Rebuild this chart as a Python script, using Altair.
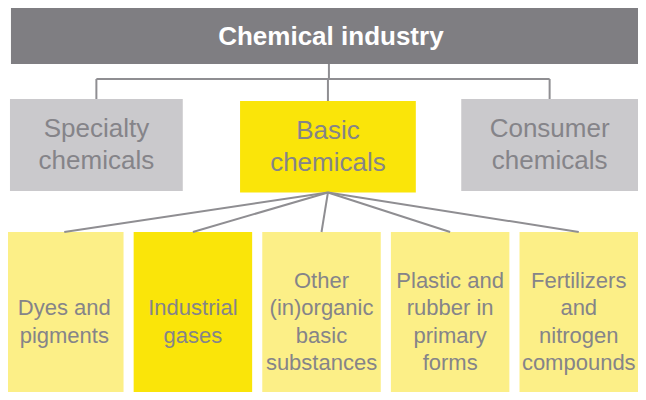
import altair as alt
import pandas as pd

# ---- content (tree structure) ----
root_label = "Chemical industry"
level2_labels = ["Specialty\nchemicals", "Basic\nchemicals", "Consumer\nchemicals"]
level2_kind = ["other", "selected", "other"]
level3_labels = [
    "Dyes and\npigments",
    "Industrial\ngases",
    "Other\n(in)organic\nbasic\nsubstances",
    "Plastic and\nrubber in\nprimary\nforms",
    "Fertilizers\nand\nnitrogen\ncompounds",
]
level3_kind = ["child", "child_selected", "child", "child", "child"]
expanded_parent = 1  # index of level-2 node whose children are shown

# ---- layout (pixel geometry of the diagram, page coordinates) ----
ROOT_BOX = (11, 660, 7, 64)
ROOT_TEXT_X = 335
L2_CENTERS = [97.5, 332, 556.5]
L2_WIDTH = [175, 178, 179]
L2_TOP, L2_BOTTOM = 99, 191
L2_TOP_SEL, L2_BOTTOM_SEL = 101, 192.5
L2_LH = 32
L3_LEFT0, L3_PITCH, L3_WIDTH = 5, 130.25, 120
L3_TOP, L3_BOTTOM = 232, 410
L3_LH = 27.5
BUS_Y = 79
L3_TEXT_Y = 322


def first_line_y(center, label, lh):
    n = label.count("\n") + 1
    return center - (n - 1) * lh / 2


boxes = []
texts = []
rules = []

boxes.append(dict(x=ROOT_BOX[0], x2=ROOT_BOX[1], y=ROOT_BOX[2], y2=ROOT_BOX[3], kind="root"))
texts.append(dict(x=ROOT_TEXT_X, y=(ROOT_BOX[2] + ROOT_BOX[3]) / 2 + 1, label=root_label, level="root"))

for i, (lab, kind) in enumerate(zip(level2_labels, level2_kind)):
    cx = L2_CENTERS[i]
    w = L2_WIDTH[i]
    top, bot = (L2_TOP_SEL, L2_BOTTOM_SEL) if kind == "selected" else (L2_TOP, L2_BOTTOM)
    boxes.append(dict(x=cx - w / 2, x2=cx + w / 2, y=top, y2=bot, kind=kind))
    texts.append(dict(x=cx, y=first_line_y((top + bot) / 2, lab, L2_LH), label=lab, level="l2"))
    rules.append(dict(x=cx, x2=cx, y=BUS_Y, y2=top))

rules.append(dict(x=333, x2=333, y=ROOT_BOX[3], y2=BUS_Y))
rules.append(dict(x=L2_CENTERS[0], x2=L2_CENTERS[-1], y=BUS_Y, y2=BUS_Y))

px = L2_CENTERS[expanded_parent]
py = L2_BOTTOM_SEL
for i, (lab, kind) in enumerate(zip(level3_labels, level3_kind)):
    left = L3_LEFT0 + i * L3_PITCH
    cx = left + L3_WIDTH / 2
    boxes.append(dict(x=left, x2=left + L3_WIDTH, y=L3_TOP, y2=L3_BOTTOM, kind=kind))
    texts.append(dict(x=cx, y=first_line_y(L3_TEXT_Y, lab, L3_LH), label=lab, level="l3"))
    rules.append(dict(x=px, x2=cx, y=py, y2=L3_TOP))

boxes_df = pd.DataFrame(boxes)
texts_df = pd.DataFrame(texts)
rules_df = pd.DataFrame(rules)

xs = alt.Scale(domain=[8, 646], nice=False, zero=False)
ys = alt.Scale(domain=[8, 392], nice=False, zero=False, reverse=True)
X = lambda f: alt.X(f, type="quantitative", scale=xs, axis=None)
Y = lambda f: alt.Y(f, type="quantitative", scale=ys, axis=None)

color_scale = alt.Scale(
    domain=["root", "other", "selected", "child", "child_selected"],
    range=["#7f7e82", "#cac9cc", "#fae509", "#fcef87", "#fae509"],
)

rect = alt.Chart(boxes_df).mark_rect(clip=True).encode(
    x=X("x"), x2="x2", y=Y("y"), y2="y2",
    color=alt.Color("kind:N", scale=color_scale, legend=None),
)

lines = alt.Chart(rules_df).mark_rule(color="#8f8e92", strokeWidth=2).encode(
    x=X("x"), x2="x2", y=Y("y"), y2="y2",
)

root_text = alt.Chart(texts_df[texts_df.level == "root"]).mark_text(
    font="Liberation Sans", fontSize=26, fontWeight="bold", color="#ffffff",
    baseline="middle", align="center",
).encode(x=X("x"), y=Y("y"), text="label:N")

l2_text = alt.Chart(texts_df[texts_df.level == "l2"]).mark_text(
    font="Liberation Sans", fontSize=26, color="#858489", lineBreak="\n",
    lineHeight=L2_LH, baseline="middle", align="center",
).encode(x=X("x"), y=Y("y"), text="label:N")

l3_text = alt.Chart(texts_df[texts_df.level == "l3"]).mark_text(
    font="Liberation Sans", fontSize=22, color="#858489", lineBreak="\n",
    lineHeight=L3_LH, baseline="middle", align="center",
).encode(x=X("x"), y=Y("y"), text="label:N")

chart = alt.layer(rect, lines, root_text, l2_text, l3_text).properties(
    width=630, height=384, padding=0,
    autosize=alt.AutoSizeParams(type="none"),
).configure_view(stroke=None)

chart.save("out.html", embed_options={"renderer": "svg", "actions": False})
